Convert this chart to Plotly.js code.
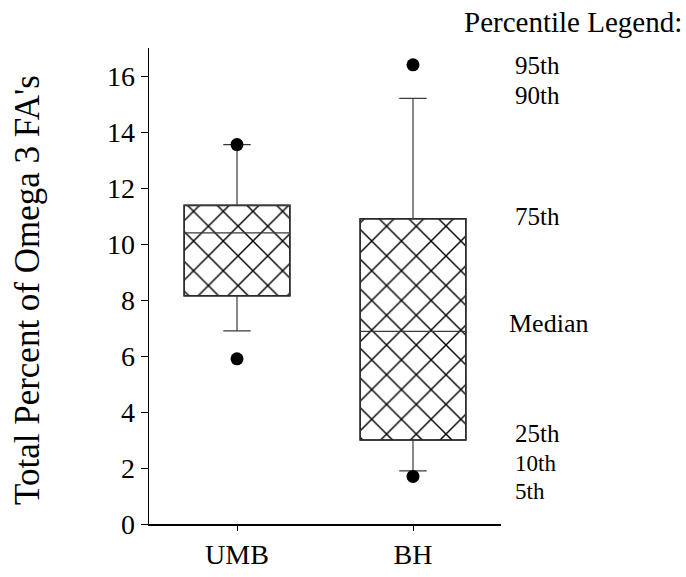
<!DOCTYPE html>
<html>
<head>
<meta charset="utf-8">
<script src="https://cdn.plot.ly/plotly-3.0.1.min.js"></script>
<style>html,body{margin:0;padding:0;background:#fff;}#chart{width:686px;height:577px;}</style>
</head>
<body>
<div id="chart"></div>
<script>
// Data
var categories = ['UMB', 'BH'];
var p5  = [5.9, 1.7];
var p10 = [6.9, 1.9];
var p25 = [8.15, 3.0];
var p50 = [10.4, 6.88];
var p75 = [11.38, 10.9];
var p90 = [13.55, 15.2];
var p95 = [13.55, 16.4];

var legendLabels = ['95th', '90th', '75th', 'Median', '25th', '10th', '5th'];
var legendPixelY = [65, 96, 217, 324, 433, 463, 491];
var legendSizes  = [25, 25, 25, 26, 25, 23, 23];
var yTitle = "Total Percent of Omega 3 FA's";

var FONT = 'Liberation Serif, Times New Roman, serif';
var W = 686, H = 577;
var M = {l: 149, r: 185, t: 48, b: 53};
var plotW = W - M.l - M.r, plotH = H - M.t - M.b;

var iqr = p75.map(function (v, i) { return v - p25[i]; });

var traces = [
  {
    type: 'bar',
    x: categories,
    base: p25,
    y: iqr,
    width: 0.6,
    marker: {
      color: 'white',
      line: {color: 'black', width: 1.6},
      pattern: {shape: 'x', size: 21, solidity: 0.13, fgcolor: 'black', bgcolor: 'white'}
    },
    hoverinfo: 'skip',
    showlegend: false
  },
  {
    type: 'box',
    x: categories,
    q1: p25,
    median: p50,
    q3: p75,
    lowerfence: p10,
    upperfence: p90,
    width: 0.6,
    whiskerwidth: 0.26,
    boxpoints: false,
    fillcolor: 'rgba(0,0,0,0)',
    line: {color: '#3a3a3a', width: 1.2},
    showlegend: false
  },
  {
    type: 'scatter',
    mode: 'markers',
    x: categories.concat(categories),
    y: p5.concat(p95),
    marker: {color: 'black', size: 13},
    showlegend: false
  }
];

var annotations = legendLabels.map(function (t, i) {
  var px = (t === 'Median') ? 507 : 513;
  return {
    text: t,
    xref: 'paper', yref: 'paper',
    x: (px - M.l) / plotW,
    y: (H - M.b - legendPixelY[i]) / plotH,
    xanchor: 'left', yanchor: 'middle',
    showarrow: false,
    font: {family: FONT, size: legendSizes[i], color: 'black'}
  };
});
annotations.push({
  text: 'Percentile Legend:',
  xref: 'paper', yref: 'paper',
  x: (684 - M.l) / plotW,
  y: (H - M.b - 22) / plotH,
  xanchor: 'right', yanchor: 'middle',
  showarrow: false,
  font: {family: FONT, size: 29, color: 'black'}
});
annotations.push({
  text: yTitle,
  xref: 'paper', yref: 'paper',
  x: (27 - M.l) / plotW,
  y: (H - M.b - 290) / plotH,
  xanchor: 'center', yanchor: 'middle',
  textangle: -90,
  showarrow: false,
  font: {family: FONT, size: 35, color: 'black'}
});

var layout = {
  width: W, height: H,
  margin: M,
  paper_bgcolor: 'white',
  plot_bgcolor: 'white',
  font: {family: FONT, color: 'black'},
  showlegend: false,
  xaxis: {
    type: 'category',
    range: [-0.5, 1.5],
    showline: true, linecolor: 'black', linewidth: 1.5,
    ticks: 'outside', ticklen: 5, tickcolor: 'black', tickwidth: 1,
    tickfont: {family: FONT, size: 28, color: 'black'},
    showgrid: false, zeroline: false, fixedrange: true
  },
  yaxis: {
    range: [0, 17],
    tickvals: [0, 2, 4, 6, 8, 10, 12, 14, 16],
    showline: true, linecolor: 'black', linewidth: 1.5,
    ticks: 'outside', ticklen: 7, tickcolor: 'black', tickwidth: 1,
    tickfont: {family: FONT, size: 28, color: 'black'},
    showgrid: false, zeroline: false, fixedrange: true
  },
  annotations: annotations
};

Plotly.newPlot('chart', traces, layout, {displayModeBar: false, staticPlot: true});
</script>
</body>
</html>
